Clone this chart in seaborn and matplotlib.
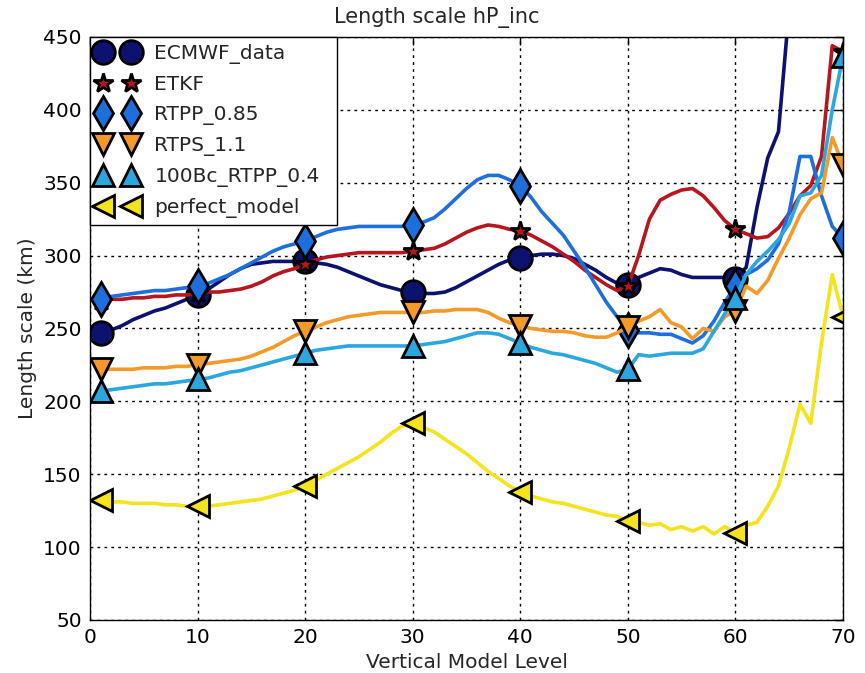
import matplotlib
matplotlib.use("Agg")
import matplotlib.pyplot as plt
import seaborn as sns
import numpy as np

levels = list(range(1, 71))

ecmwf_data = [247, 249, 252, 256, 259, 262, 264, 267, 270, 273,
              277, 282, 287, 291, 294, 295, 296, 296, 296, 296,
              295, 294, 292, 289, 286, 283, 280, 278, 276, 275,
              274, 274, 275, 278, 282, 286, 290, 294, 297, 298,
              300, 301, 301, 300, 298, 294, 290, 285, 281, 280,
              285, 288, 291, 290, 287, 285, 285, 285, 285, 284,
              292, 333, 367, 385, 470, 520, 560, 600, 640, 680]

etkf = [269, 270, 270, 271, 271, 272, 272, 273, 273, 274,
        275, 275, 276, 277, 279, 282, 286, 289, 291, 294,
        297, 299, 300, 301, 302, 302, 302, 302, 302, 303,
        304, 305, 308, 312, 316, 319, 321, 320, 318, 317,
        314, 310, 306, 301, 296, 290, 285, 280, 276, 279,
        300, 325, 338, 342, 345, 346, 341, 333, 324, 318,
        315, 312, 313, 319, 329, 341, 348, 368, 444, 440]

rtpp_085 = [270, 272, 273, 274, 275, 276, 276, 277, 278, 279,
            281, 284, 287, 291, 295, 299, 303, 306, 308, 310,
            313, 316, 318, 319, 320, 320, 320, 320, 320, 321,
            323, 326, 332, 339, 346, 352, 355, 355, 352, 348,
            340, 330, 322, 314, 303, 292, 280, 268, 258, 249,
            247, 247, 246, 246, 243, 240, 245, 255, 268, 279,
            287, 291, 297, 308, 330, 368, 368, 341, 320, 312]

rtps_11 = [222, 222, 222, 222, 223, 223, 223, 224, 224, 225,
           226, 227, 228, 229, 231, 234, 237, 241, 245, 248,
           251, 254, 256, 258, 259, 260, 261, 261, 261, 261,
           261, 262, 262, 263, 263, 263, 261, 257, 254, 252,
           250, 249, 248, 248, 247, 245, 244, 244, 247, 251,
           255, 258, 263, 254, 251, 243, 250, 248, 258, 262,
           279, 274, 283, 298, 312, 328, 339, 343, 381, 362]

bc100_rtpp_04 = [207, 208, 209, 210, 211, 212, 212, 213, 214, 215,
                 216, 218, 220, 221, 223, 225, 227, 229, 231, 233,
                 235, 236, 237, 238, 238, 238, 238, 238, 238, 238,
                 239, 240, 241, 243, 245, 247, 247, 246, 243, 240,
                 237, 235, 233, 232, 230, 228, 226, 223, 220, 222,
                 232, 231, 232, 233, 233, 233, 236, 248, 260, 271,
                 287, 296, 303, 311, 322, 341, 343, 355, 400, 437]

perfect_model = [132, 131, 131, 130, 130, 130, 129, 129, 128, 128,
                 128, 129, 130, 131, 132, 133, 135, 137, 139, 142,
                 146, 150, 154, 158, 162, 167, 172, 178, 183, 185,
                 182, 179, 174, 169, 164, 158, 152, 147, 142, 138,
                 135, 133, 131, 130, 128, 126, 124, 122, 121, 118,
                 117, 115, 116, 112, 114, 111, 114, 109, 114, 110,
                 115, 117, 128, 142, 168, 198, 185, 240, 287, 258]

series_names = ["ECMWF_data", "ETKF", "RTPP_0.85", "RTPS_1.1",
                "100Bc_RTPP_0.4", "perfect_model"]
series_values = [ecmwf_data, etkf, rtpp_085, rtps_11, bc100_rtpp_04, perfect_model]
series_colors = ["#0d1170", "#b8161e", "#1e6fdc", "#f39a2b", "#2aa7df", "#f4e31d"]
series_markers = ["o", "*", "d", "v", "^", "<"]
marker_sizes = [17, 15, 17, 16, 16, 16]
marker_idx = [0, 9, 19, 29, 39, 49, 59, 69]

sns.set_style("white")
plt.rcParams["font.family"] = ["DejaVu Sans"]

fig = plt.figure(figsize=(8.65, 6.73), dpi=100)
ax = fig.add_axes([0.104, 0.0788, 0.8706, 0.8663])

for name, vals, col, mk, ms in zip(series_names, series_values, series_colors,
                                   series_markers, marker_sizes):
    sns.lineplot(x=levels, y=vals, ax=ax, color=col, linewidth=2.6,
                 marker=mk, markersize=ms, markevery=marker_idx,
                 markeredgecolor="black", markeredgewidth=2.0,
                 markerfacecolor=col, label=name, errorbar=None, sort=False)

ax.set_xlim(0, 70)
ax.set_ylim(50, 450)
ax.set_xticks(range(0, 71, 10))
ax.set_yticks(range(50, 451, 50))
ax.grid(True, color="black", linestyle=(0, (2, 3)), linewidth=1.0)
for s in ax.spines.values():
    s.set_color("black")
    s.set_linewidth(1.0)
ax.tick_params(direction="in", length=6, width=1, top=True, right=True,
               labelsize=14.5, colors="black", pad=6)
fig.text(0.505, 0.974, "Length scale hP_inc", fontsize=15,
         ha="center", va="center")
ax.set_xlabel("Vertical Model Level", fontsize=14.5)
ax.set_ylabel("Length scale (km)", fontsize=14.5)

leg = ax.legend(loc="upper left", bbox_to_anchor=(0.0, 0.0, 0.328, 1.0),
                mode="expand", numpoints=2, fontsize=14.5,
                borderaxespad=0.0, frameon=True, fancybox=False,
                handlelength=2.0, handletextpad=0.85, labelspacing=0.55,
                borderpad=0.35)
leg.get_frame().set_edgecolor("black")
leg.get_frame().set_linewidth(1.0)
leg.get_frame().set_alpha(1.0)
for h in leg.legend_handles:
    h.set_linestyle("None")

fig.savefig("out.png", dpi=100)
